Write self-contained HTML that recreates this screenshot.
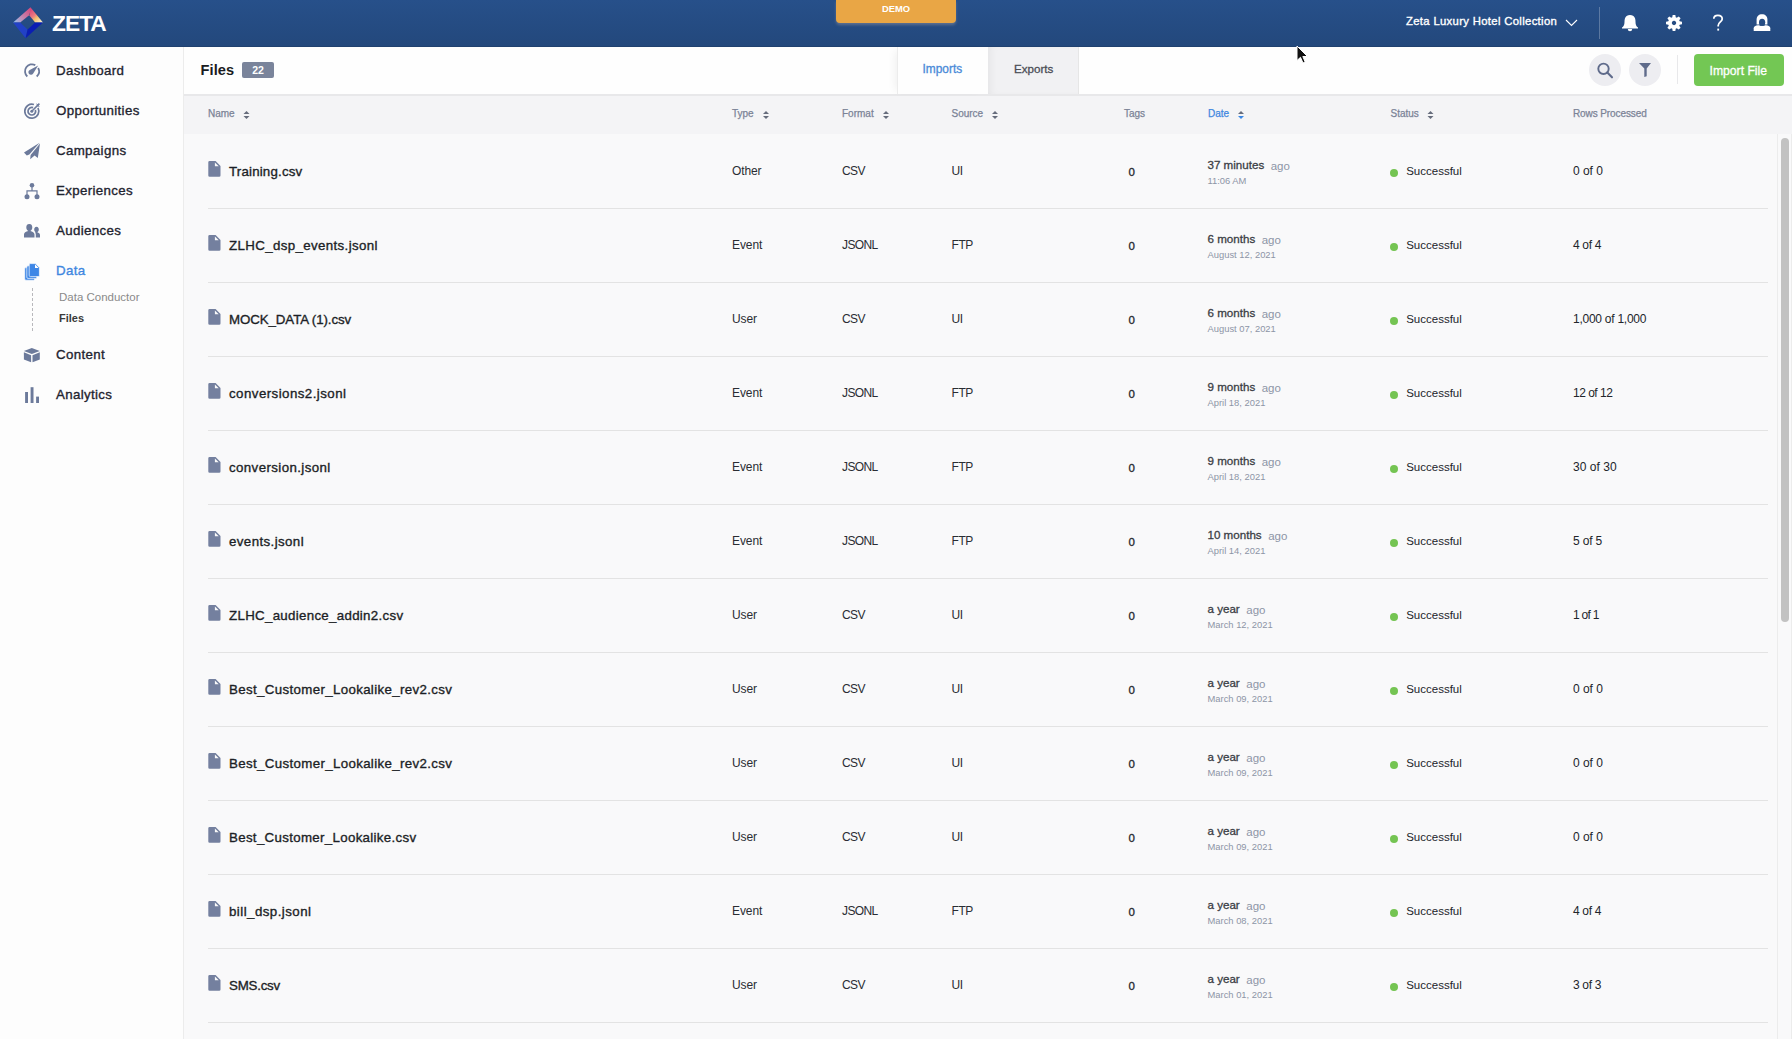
<!DOCTYPE html>
<html><head><meta charset="utf-8"><title>Files</title>
<style>
*{box-sizing:border-box;margin:0;padding:0}
html,body{width:1792px;height:1039px;overflow:hidden}
body{position:relative;background:#f9f9fa;font-family:"Liberation Sans",sans-serif;color:#222}
.a{position:absolute;white-space:nowrap}
.ago{font-weight:400;color:#8d95a6;font-size:11.5px;margin-left:6.5px;position:relative;top:0.7px}
#hdr{position:absolute;left:0;top:0;width:1792px;height:47px;background:linear-gradient(#27508a,#23487c);border-bottom:1px solid #20416f}
#demo{position:absolute;left:836px;top:0;width:120px;height:23px;background:#e9a645;border-radius:0 0 4px 4px;box-shadow:0 2px 3px rgba(150,150,160,0.5)}
#side{position:absolute;left:0;top:47px;width:184px;height:992px;background:#fdfdfd;border-right:1px solid #ececec}
#dash{position:absolute;left:32px;top:288px;width:1px;height:43px;background:repeating-linear-gradient(#b8b8bc 0 3px,transparent 3px 5px)}
#top{position:absolute;left:184px;top:47px;width:1608px;height:47px;background:#fefefe}
#topline{position:absolute;left:184px;top:94px;width:1608px;height:2px;background:#e8e8ea}
#thead{position:absolute;left:184px;top:96px;width:1608px;height:38px;background:#f4f4f6}
#badge{position:absolute;left:242px;top:62px;width:32px;height:16px;border-radius:2px;background:#7a849b;color:#fff;font-size:10.5px;font-weight:700;line-height:16px;text-align:center}
#tabimp{position:absolute;left:897px;top:47px;width:91px;height:47px;background:#fefefe;border-left:1px solid #ececec;box-shadow:-6px 0 8px -4px rgba(0,0,0,0.06)}
#tabexp{position:absolute;left:988px;top:47px;width:91px;height:47px;background:#f1f1f3;border-right:1px solid #e6e6e6;box-shadow:inset 6px 0 8px -4px rgba(0,0,0,0.06)}
.circ{position:absolute;top:54px;width:32px;height:32px;border-radius:50%;background:#ededf1}
#vsep2{position:absolute;left:1677px;top:55px;width:1px;height:29px;background:#e8e8ea}
#imp{position:absolute;left:1694px;top:54px;width:90px;height:32px;border-radius:4px;background:#73c754}
.sep{position:absolute;left:208px;width:1560px;height:1px;background:#e3e3e3}
#sbline{position:absolute;left:1777px;top:134px;width:1px;height:905px;background:#ececec}
#sbthumb{position:absolute;left:1781px;top:138px;width:8px;height:484px;border-radius:4px;background:#c2c2c2}
#sbline2{position:absolute;left:1791px;top:134px;width:1px;height:905px;background:#ececec}
.d1{-webkit-text-stroke:0.3px #3b3e45}
</style></head><body>
<div id="hdr"></div>
<svg class="a" style="left:0;top:0" width="50" height="46">
<defs>
<linearGradient id="lg1" gradientUnits="userSpaceOnUse" x1="13" y1="22.6" x2="31" y2="8"><stop offset="0" stop-color="#8ec4f4"/><stop offset="0.45" stop-color="#c487b0"/><stop offset="1" stop-color="#d8467a"/></linearGradient>
<linearGradient id="lg2" gradientUnits="userSpaceOnUse" x1="31" y1="9" x2="42" y2="22.6"><stop offset="0" stop-color="#d8467a"/><stop offset="0.4" stop-color="#ea7a80"/><stop offset="0.6" stop-color="#f2c070"/><stop offset="1" stop-color="#f8f0d8"/></linearGradient>
</defs>
<path d="M13.1 22.6 L30.5 7.3 L31.4 9.2 L28.8 15.4 L20.2 22.6Z" fill="url(#lg1)"/>
<path d="M30.6 7.5 L43 22.6 L35.2 22.6 L29.4 15.6 Z" fill="url(#lg2)"/>
<path d="M13.1 22.6 L20.2 22.6 L27.6 29.6 L25.6 38.3 Z" fill="#2241c6"/>
<path d="M43 22.6 L25.6 38.3 L27.6 29.6 L35.2 22.6 Z" fill="#0b1db4"/>
</svg>
<div class="a" style="left:52px;top:9.0px;font-size:22.8px;line-height:28px;font-weight:700;color:#ffffff;letter-spacing:-1px;">ZETA</div>
<div id="demo"></div>
<div class="a" style="left:882px;top:2.74px;font-size:9.4px;line-height:12px;font-weight:700;color:#ffffff;">DEMO</div>
<div class="a" style="left:1406px;top:14.48px;font-size:11.3px;line-height:14px;font-weight:400;color:#ffffff;-webkit-text-stroke:0.35px #fff;letter-spacing:0.33px;">Zeta Luxury Hotel Collection</div>
<svg class="a" style="left:0;top:0" width="1792" height="46">
<path d="M1566 20 L1571.5 25.5 L1577 20" fill="none" stroke="#fff" stroke-width="1.1"/>
<rect x="1599" y="7" width="1" height="32" fill="rgba(255,255,255,0.25)"/>
<g fill="#fff">
<path d="M1630 15 C1625 15 1624.5 19 1624.5 22 C1624.5 25 1623.5 26.5 1622 27.5 L1622 28.5 L1638 28.5 L1638 27.5 C1636.5 26.5 1635.5 25 1635.5 22 C1635.5 19 1635 15 1630 15Z"/>
<path d="M1627.8 29 A2.2 2.2 0 0 0 1632.2 29Z"/>
</g>
<path d="M1672.28 17.36 L1672.66 15.01 L1675.34 15.01 L1675.72 17.36 L1676.77 17.79 L1678.70 16.40 L1680.60 18.30 L1679.21 20.23 L1679.64 21.28 L1681.99 21.66 L1681.99 24.34 L1679.64 24.72 L1679.21 25.77 L1680.60 27.70 L1678.70 29.60 L1676.77 28.21 L1675.72 28.64 L1675.34 30.99 L1672.66 30.99 L1672.28 28.64 L1671.23 28.21 L1669.30 29.60 L1667.40 27.70 L1668.79 25.77 L1668.36 24.72 L1666.01 24.34 L1666.01 21.66 L1668.36 21.28 L1668.79 20.23 L1667.40 18.30 L1669.30 16.40 L1671.23 17.79 Z M1674 20.8 A2.2 2.2 0 1 0 1674.01 20.8 Z" fill="#fff" fill-rule="evenodd"/>
<path d="M1713.8 18.8 C1713.8 16.5 1715.5 15.3 1717.9 15.3 C1720.4 15.3 1722.2 16.8 1722.2 19 C1722.2 21.6 1718.2 22.3 1718.2 25.5 V26.5" fill="none" stroke="#fff" stroke-width="1.75"/>
<rect x="1717.3" y="28.6" width="1.8" height="2" fill="#fff"/>
<mask id="um"><rect x="1750" y="10" width="25" height="25" fill="#fff"/><ellipse cx="1762.1" cy="22.2" rx="3.1" ry="3.5" fill="#000"/><rect x="1759.6" y="22.2" width="5" height="3.6" fill="#000"/></mask>
<g fill="#fff" mask="url(#um)">
<path d="M1756.6 24.6 V19.6 C1756.6 16.3 1758.8 14.3 1762 14.3 C1765.2 14.3 1767.4 16.3 1767.4 19.6 V24.6 Z"/>
<path d="M1753.7 31 V28.3 C1753.7 26.4 1755.4 25.5 1758 25.2 H1766 C1768.6 25.5 1770.3 26.4 1770.3 28.3 V31 Z"/>
</g>
</svg>
<div id="side"></div>
<div class="a" style="left:56px;top:61.89px;font-size:13.3px;line-height:17px;font-weight:400;color:#1f2430;-webkit-text-stroke:0.35px #1f2430;letter-spacing:0.35px;">Dashboard</div>
<div class="a" style="left:56px;top:101.89px;font-size:13.3px;line-height:17px;font-weight:400;color:#1f2430;-webkit-text-stroke:0.35px #1f2430;letter-spacing:0.35px;">Opportunities</div>
<div class="a" style="left:56px;top:141.89px;font-size:13.3px;line-height:17px;font-weight:400;color:#1f2430;-webkit-text-stroke:0.35px #1f2430;letter-spacing:0.35px;">Campaigns</div>
<div class="a" style="left:56px;top:181.89px;font-size:13.3px;line-height:17px;font-weight:400;color:#1f2430;-webkit-text-stroke:0.35px #1f2430;letter-spacing:0.35px;">Experiences</div>
<div class="a" style="left:56px;top:221.89px;font-size:13.3px;line-height:17px;font-weight:400;color:#1f2430;-webkit-text-stroke:0.35px #1f2430;letter-spacing:0.35px;">Audiences</div>
<div class="a" style="left:56px;top:261.89px;font-size:13.3px;line-height:17px;font-weight:400;color:#3f87e0;-webkit-text-stroke:0.35px #3f87e0;letter-spacing:0.35px;">Data</div>
<div class="a" style="left:59px;top:290.22px;font-size:11.5px;line-height:14px;font-weight:400;color:#8a8a8a;">Data Conductor</div>
<div class="a" style="left:59px;top:310.99px;font-size:11px;line-height:14px;font-weight:700;color:#3a3a3a;">Files</div>
<div class="a" style="left:56px;top:345.89px;font-size:13.3px;line-height:17px;font-weight:400;color:#1f2430;-webkit-text-stroke:0.35px #1f2430;letter-spacing:0.35px;">Content</div>
<div class="a" style="left:56px;top:385.89px;font-size:13.3px;line-height:17px;font-weight:400;color:#1f2430;-webkit-text-stroke:0.35px #1f2430;letter-spacing:0.35px;">Analytics</div>
<div id="dash"></div>
<svg class="a" style="left:0;top:0" width="60" height="420">
<g fill="#6c7a9b" stroke="none">
<!-- dashboard gauge -->
<path d="M27.32 76.50 A7.0 7.0 0 0 1 35.29 65.12 M38.18 68.01 A7.0 7.0 0 0 1 36.68 76.50" fill="none" stroke="#6c7a9b" stroke-width="1.8"/>
<path d="M38.2 65.6 L33.00 73.66 A2.5 2.5 0 1 1 29.73 70.09 Z"/>
<!-- opportunities target -->
<path d="M37.98 107.91 A7.0 7.0 0 1 1 33.96 104.54 M35.37 109.90 A3.8 3.8 0 1 1 33.10 107.63" fill="none" stroke="#6c7a9b" stroke-width="1.7"/>
<circle cx="31.8" cy="111.2" r="1.5"/>
<path d="M31.3 111.7 L37.6 105.4" stroke="#6c7a9b" stroke-width="1.5"/>
<path d="M36.2 103.2 L37.6 104.3 L38.8 103 L40 104.2 L38.7 105.4 L39.8 106.8 L37.4 106.6 Z"/>
<!-- campaigns plane -->
<path d="M24 152.6 L39.6 142.8 L29.3 154.6 L26.8 155.6 Z"/>
<path d="M40 143.6 L37.8 158 L34.6 155.6 L30.2 159.3 L30.6 154.9 Z"/>
<!-- experiences -->
<circle cx="32" cy="185.3" r="2.3"/>
<circle cx="27" cy="196.8" r="2.5"/>
<circle cx="37" cy="196.8" r="2.5"/>
<path d="M31.4 187 H32.6 V190.3 H37.6 V195 H36.4 V191.5 H27.6 V195 H26.4 V190.3 H31.4Z"/>
<!-- audiences -->
<path d="M29.3 224 C27 224 26.3 225.8 26.3 227.5 C26.3 229.5 27.4 230.6 28.3 231 C25.8 231.5 24 232.5 24 234.5 V237.5 H34.5 V234.5 C34.5 232.5 32.5 231.5 30.3 231 C31.2 230.6 32.3 229.5 32.3 227.5 C32.3 225.8 31.6 224 29.3 224Z"/>
<path d="M36.5 226.8 C34.8 226.8 34.2 228.2 34.2 229.6 C34.2 231 35 232 35.6 232.3 C35.3 232.4 35.1 232.5 35 232.6 C35.6 233.2 35.8 233.9 35.8 234.7 V237.5 H40 V235 C40 233.6 38.8 232.8 37.3 232.3 C38 232 38.8 231 38.8 229.6 C38.8 228.2 38.2 226.8 36.5 226.8Z"/>
<!-- content cube -->
<path d="M31.8 348 L39.8 351 L31.8 354 L23.9 351Z"/>
<path d="M23.9 352.3 L31.1 355.2 V362.3 L23.9 359.4Z"/>
<path d="M32.5 355.2 L39.8 352.3 V359.4 L32.5 362.3Z"/>
<!-- analytics -->
<rect x="25.1" y="392" width="2.9" height="11"/>
<rect x="30.6" y="387.2" width="2.9" height="15.8"/>
<rect x="36.1" y="396.6" width="2.9" height="6.4"/>
</g>
<!-- data icon (blue) -->
<g fill="#3d86e6" stroke="#fdfdfd" stroke-width="0.7">
<rect x="24.7" y="267.6" width="10" height="12.6" rx="1.2"/>
<rect x="26.8" y="265.8" width="10" height="12.6" rx="1.2"/>
<path d="M30.4 263.6 H35.6 L39.4 267.4 V275.4 Q39.4 276.6 38.2 276.6 H30.4 Q29.2 276.6 29.2 275.4 V264.8 Q29.2 263.6 30.4 263.6Z"/>
</g>
<path d="M35 264.3 V268 H38.7Z" fill="#fff"/>
</svg>
<div id="top"></div>
<div id="topline"></div>
<div class="a" style="left:200.5px;top:60.94px;font-size:14.6px;line-height:18px;font-weight:700;color:#1a1c22;letter-spacing:0.1px;">Files</div>
<div id="badge">22</div>
<div id="tabimp"></div><div id="tabexp"></div>
<div class="a" style="left:922.5px;top:61.58px;font-size:11.9px;line-height:15px;font-weight:400;color:#4a8ad8;-webkit-text-stroke:0.3px #4a8ad8;">Imports</div>
<div class="a" style="left:1014px;top:62.18px;font-size:11.6px;line-height:14px;font-weight:400;color:#4b4e56;-webkit-text-stroke:0.3px #4b4e56;">Exports</div>
<div class="circ" style="left:1589px"></div><div class="circ" style="left:1629px"></div>
<div id="vsep2"></div>
<div id="imp"></div>
<div class="a" style="left:1709.5px;top:63.57px;font-size:12.2px;line-height:15px;font-weight:400;color:#ffffff;-webkit-text-stroke:0.3px #fff;">Import File</div>
<svg class="a" style="left:0;top:0" width="1792" height="96">
<circle cx="1603.5" cy="68.8" r="5.2" fill="none" stroke="#5f6b8b" stroke-width="1.9"/>
<path d="M1607.3 72.6 L1612 77.3" stroke="#5f6b8b" stroke-width="2.1" stroke-linecap="round"/>
<path d="M1639 63 H1651 L1646.7 68.5 V76.2 L1644.3 77 V68.5Z" fill="#5f6b8b"/>
</svg>
<div id="thead"></div>
<div class="a" style="left:208px;top:107.73px;font-size:10px;line-height:12px;font-weight:400;color:#7b8396;-webkit-text-stroke:0.25px #7b8396;">Name</div>
<div class="a" style="left:732px;top:107.73px;font-size:10px;line-height:12px;font-weight:400;color:#7b8396;-webkit-text-stroke:0.25px #7b8396;">Type</div>
<div class="a" style="left:842px;top:107.73px;font-size:10px;line-height:12px;font-weight:400;color:#7b8396;-webkit-text-stroke:0.25px #7b8396;">Format</div>
<div class="a" style="left:951.5px;top:107.73px;font-size:10px;line-height:12px;font-weight:400;color:#7b8396;-webkit-text-stroke:0.25px #7b8396;">Source</div>
<div class="a" style="left:1124px;top:107.73px;font-size:10px;line-height:12px;font-weight:400;color:#7b8396;-webkit-text-stroke:0.25px #7b8396;">Tags</div>
<div class="a" style="left:1208px;top:107.73px;font-size:10px;line-height:12px;font-weight:400;color:#3f87e0;-webkit-text-stroke:0.25px #3f87e0;">Date</div>
<div class="a" style="left:1390.5px;top:107.73px;font-size:10px;line-height:12px;font-weight:400;color:#7b8396;-webkit-text-stroke:0.25px #7b8396;">Status</div>
<div class="a" style="left:1573px;top:107.73px;font-size:10px;line-height:12px;font-weight:400;color:#7b8396;-webkit-text-stroke:0.25px #7b8396;letter-spacing:-0.1px;">Rows Processed</div>
<svg class="a" style="left:0;top:0" width="1792" height="140"><path d="M243.5 114 L246.5 111 L249.5 114Z" fill="#666c7c"/><path d="M243.5 116 L246.5 119 L249.5 116Z" fill="#666c7c"/><path d="M763 114 L766 111 L769 114Z" fill="#666c7c"/><path d="M763 116 L766 119 L769 116Z" fill="#666c7c"/><path d="M883 114 L886 111 L889 114Z" fill="#666c7c"/><path d="M883 116 L886 119 L889 116Z" fill="#666c7c"/><path d="M992 114 L995 111 L998 114Z" fill="#666c7c"/><path d="M992 116 L995 119 L998 116Z" fill="#666c7c"/><path d="M1238 114 L1241 111 L1244 114Z" fill="#666c7c"/><path d="M1238 116 L1241 119 L1244 116Z" fill="#3a87e5"/><path d="M1427.5 114 L1430.5 111 L1433.5 114Z" fill="#666c7c"/><path d="M1427.5 116 L1430.5 119 L1433.5 116Z" fill="#666c7c"/></svg>
<div class="a" style="left:229px;top:162.89px;font-size:13.3px;line-height:17px;font-weight:400;color:#1c1f26;-webkit-text-stroke:0.35px #1c1f26;letter-spacing:0.182px;">Training.csv</div>
<div class="a" style="left:732px;top:164.34px;font-size:12px;line-height:15px;font-weight:400;color:#2a2d33;letter-spacing:-0.1px;">Other</div>
<div class="a" style="left:842px;top:164.34px;font-size:12px;line-height:15px;font-weight:400;color:#2a2d33;letter-spacing:-0.6px;">CSV</div>
<div class="a" style="left:951.5px;top:164.34px;font-size:12px;line-height:15px;font-weight:400;color:#2a2d33;letter-spacing:-0.4px;">UI</div>
<div class="a" style="left:1128.5px;top:165.02px;font-size:11.5px;line-height:14px;font-weight:400;color:#23262c;-webkit-text-stroke:0.3px #23262c;">0</div>
<div class="a" style="left:1207.5px;top:157.98px;font-size:11.6px;line-height:14px;font-weight:400;color:#3b3e45;"><span class="d1">37 minutes</span><span class="ago">ago</span></div>
<div class="a" style="left:1207.5px;top:174.94px;font-size:9.4px;line-height:12px;font-weight:400;color:#8d95a6;">11:06 AM</div>
<div class="a" style="left:1406.2px;top:164.32px;font-size:11.5px;line-height:14px;font-weight:400;color:#22252b;">Successful</div>
<div class="a" style="left:1573px;top:164.14px;font-size:12px;line-height:15px;font-weight:400;color:#22252b;letter-spacing:-0.02px;">0 of 0</div>
<div class="sep" style="top:208px"></div>
<div class="a" style="left:229px;top:236.89px;font-size:13.3px;line-height:17px;font-weight:400;color:#1c1f26;-webkit-text-stroke:0.35px #1c1f26;letter-spacing:0.365px;">ZLHC_dsp_events.jsonl</div>
<div class="a" style="left:732px;top:238.34px;font-size:12px;line-height:15px;font-weight:400;color:#2a2d33;letter-spacing:-0.1px;">Event</div>
<div class="a" style="left:842px;top:238.34px;font-size:12px;line-height:15px;font-weight:400;color:#2a2d33;letter-spacing:-0.6px;">JSONL</div>
<div class="a" style="left:951.5px;top:238.34px;font-size:12px;line-height:15px;font-weight:400;color:#2a2d33;letter-spacing:-0.4px;">FTP</div>
<div class="a" style="left:1128.5px;top:239.02px;font-size:11.5px;line-height:14px;font-weight:400;color:#23262c;-webkit-text-stroke:0.3px #23262c;">0</div>
<div class="a" style="left:1207.5px;top:231.98px;font-size:11.6px;line-height:14px;font-weight:400;color:#3b3e45;"><span class="d1">6 months</span><span class="ago">ago</span></div>
<div class="a" style="left:1207.5px;top:248.94px;font-size:9.4px;line-height:12px;font-weight:400;color:#8d95a6;">August 12, 2021</div>
<div class="a" style="left:1406.2px;top:238.32px;font-size:11.5px;line-height:14px;font-weight:400;color:#22252b;">Successful</div>
<div class="a" style="left:1573px;top:238.14px;font-size:12px;line-height:15px;font-weight:400;color:#22252b;letter-spacing:-0.32px;">4 of 4</div>
<div class="sep" style="top:282px"></div>
<div class="a" style="left:229px;top:310.89px;font-size:13.3px;line-height:17px;font-weight:400;color:#1c1f26;-webkit-text-stroke:0.35px #1c1f26;letter-spacing:-0.087px;">MOCK_DATA (1).csv</div>
<div class="a" style="left:732px;top:312.34px;font-size:12px;line-height:15px;font-weight:400;color:#2a2d33;letter-spacing:-0.1px;">User</div>
<div class="a" style="left:842px;top:312.34px;font-size:12px;line-height:15px;font-weight:400;color:#2a2d33;letter-spacing:-0.6px;">CSV</div>
<div class="a" style="left:951.5px;top:312.34px;font-size:12px;line-height:15px;font-weight:400;color:#2a2d33;letter-spacing:-0.4px;">UI</div>
<div class="a" style="left:1128.5px;top:313.02px;font-size:11.5px;line-height:14px;font-weight:400;color:#23262c;-webkit-text-stroke:0.3px #23262c;">0</div>
<div class="a" style="left:1207.5px;top:305.98px;font-size:11.6px;line-height:14px;font-weight:400;color:#3b3e45;"><span class="d1">6 months</span><span class="ago">ago</span></div>
<div class="a" style="left:1207.5px;top:322.94px;font-size:9.4px;line-height:12px;font-weight:400;color:#8d95a6;">August 07, 2021</div>
<div class="a" style="left:1406.2px;top:312.32px;font-size:11.5px;line-height:14px;font-weight:400;color:#22252b;">Successful</div>
<div class="a" style="left:1573px;top:312.14px;font-size:12px;line-height:15px;font-weight:400;color:#22252b;letter-spacing:-0.254px;">1,000 of 1,000</div>
<div class="sep" style="top:356px"></div>
<div class="a" style="left:229px;top:384.89px;font-size:13.3px;line-height:17px;font-weight:400;color:#1c1f26;-webkit-text-stroke:0.35px #1c1f26;letter-spacing:0.447px;">conversions2.jsonl</div>
<div class="a" style="left:732px;top:386.34px;font-size:12px;line-height:15px;font-weight:400;color:#2a2d33;letter-spacing:-0.1px;">Event</div>
<div class="a" style="left:842px;top:386.34px;font-size:12px;line-height:15px;font-weight:400;color:#2a2d33;letter-spacing:-0.6px;">JSONL</div>
<div class="a" style="left:951.5px;top:386.34px;font-size:12px;line-height:15px;font-weight:400;color:#2a2d33;letter-spacing:-0.4px;">FTP</div>
<div class="a" style="left:1128.5px;top:387.02px;font-size:11.5px;line-height:14px;font-weight:400;color:#23262c;-webkit-text-stroke:0.3px #23262c;">0</div>
<div class="a" style="left:1207.5px;top:379.98px;font-size:11.6px;line-height:14px;font-weight:400;color:#3b3e45;"><span class="d1">9 months</span><span class="ago">ago</span></div>
<div class="a" style="left:1207.5px;top:396.94px;font-size:9.4px;line-height:12px;font-weight:400;color:#8d95a6;">April 18, 2021</div>
<div class="a" style="left:1406.2px;top:386.32px;font-size:11.5px;line-height:14px;font-weight:400;color:#22252b;">Successful</div>
<div class="a" style="left:1573px;top:386.14px;font-size:12px;line-height:15px;font-weight:400;color:#22252b;letter-spacing:-0.5px;">12 of 12</div>
<div class="sep" style="top:430px"></div>
<div class="a" style="left:229px;top:458.89px;font-size:13.3px;line-height:17px;font-weight:400;color:#1c1f26;-webkit-text-stroke:0.35px #1c1f26;letter-spacing:0.393px;">conversion.jsonl</div>
<div class="a" style="left:732px;top:460.34px;font-size:12px;line-height:15px;font-weight:400;color:#2a2d33;letter-spacing:-0.1px;">Event</div>
<div class="a" style="left:842px;top:460.34px;font-size:12px;line-height:15px;font-weight:400;color:#2a2d33;letter-spacing:-0.6px;">JSONL</div>
<div class="a" style="left:951.5px;top:460.34px;font-size:12px;line-height:15px;font-weight:400;color:#2a2d33;letter-spacing:-0.4px;">FTP</div>
<div class="a" style="left:1128.5px;top:461.02px;font-size:11.5px;line-height:14px;font-weight:400;color:#23262c;-webkit-text-stroke:0.3px #23262c;">0</div>
<div class="a" style="left:1207.5px;top:453.98px;font-size:11.6px;line-height:14px;font-weight:400;color:#3b3e45;"><span class="d1">9 months</span><span class="ago">ago</span></div>
<div class="a" style="left:1207.5px;top:470.94px;font-size:9.4px;line-height:12px;font-weight:400;color:#8d95a6;">April 18, 2021</div>
<div class="a" style="left:1406.2px;top:460.32px;font-size:11.5px;line-height:14px;font-weight:400;color:#22252b;">Successful</div>
<div class="a" style="left:1573px;top:460.14px;font-size:12px;line-height:15px;font-weight:400;color:#22252b;letter-spacing:0.057px;">30 of 30</div>
<div class="sep" style="top:504px"></div>
<div class="a" style="left:229px;top:532.89px;font-size:13.3px;line-height:17px;font-weight:400;color:#1c1f26;-webkit-text-stroke:0.35px #1c1f26;letter-spacing:0.4px;">events.jsonl</div>
<div class="a" style="left:732px;top:534.34px;font-size:12px;line-height:15px;font-weight:400;color:#2a2d33;letter-spacing:-0.1px;">Event</div>
<div class="a" style="left:842px;top:534.34px;font-size:12px;line-height:15px;font-weight:400;color:#2a2d33;letter-spacing:-0.6px;">JSONL</div>
<div class="a" style="left:951.5px;top:534.34px;font-size:12px;line-height:15px;font-weight:400;color:#2a2d33;letter-spacing:-0.4px;">FTP</div>
<div class="a" style="left:1128.5px;top:535.02px;font-size:11.5px;line-height:14px;font-weight:400;color:#23262c;-webkit-text-stroke:0.3px #23262c;">0</div>
<div class="a" style="left:1207.5px;top:527.98px;font-size:11.6px;line-height:14px;font-weight:400;color:#3b3e45;"><span class="d1">10 months</span><span class="ago">ago</span></div>
<div class="a" style="left:1207.5px;top:544.94px;font-size:9.4px;line-height:12px;font-weight:400;color:#8d95a6;">April 14, 2021</div>
<div class="a" style="left:1406.2px;top:534.32px;font-size:11.5px;line-height:14px;font-weight:400;color:#22252b;">Successful</div>
<div class="a" style="left:1573px;top:534.14px;font-size:12px;line-height:15px;font-weight:400;color:#22252b;letter-spacing:-0.18px;">5 of 5</div>
<div class="sep" style="top:578px"></div>
<div class="a" style="left:229px;top:606.89px;font-size:13.3px;line-height:17px;font-weight:400;color:#1c1f26;-webkit-text-stroke:0.35px #1c1f26;letter-spacing:0.304px;">ZLHC_audience_addin2.csv</div>
<div class="a" style="left:732px;top:608.34px;font-size:12px;line-height:15px;font-weight:400;color:#2a2d33;letter-spacing:-0.1px;">User</div>
<div class="a" style="left:842px;top:608.34px;font-size:12px;line-height:15px;font-weight:400;color:#2a2d33;letter-spacing:-0.6px;">CSV</div>
<div class="a" style="left:951.5px;top:608.34px;font-size:12px;line-height:15px;font-weight:400;color:#2a2d33;letter-spacing:-0.4px;">UI</div>
<div class="a" style="left:1128.5px;top:609.02px;font-size:11.5px;line-height:14px;font-weight:400;color:#23262c;-webkit-text-stroke:0.3px #23262c;">0</div>
<div class="a" style="left:1207.5px;top:601.98px;font-size:11.6px;line-height:14px;font-weight:400;color:#3b3e45;"><span class="d1">a year</span><span class="ago">ago</span></div>
<div class="a" style="left:1207.5px;top:618.94px;font-size:9.4px;line-height:12px;font-weight:400;color:#8d95a6;">March 12, 2021</div>
<div class="a" style="left:1406.2px;top:608.32px;font-size:11.5px;line-height:14px;font-weight:400;color:#22252b;">Successful</div>
<div class="a" style="left:1573px;top:608.14px;font-size:12px;line-height:15px;font-weight:400;color:#22252b;letter-spacing:-0.7px;">1 of 1</div>
<div class="sep" style="top:652px"></div>
<div class="a" style="left:229px;top:680.89px;font-size:13.3px;line-height:17px;font-weight:400;color:#1c1f26;-webkit-text-stroke:0.35px #1c1f26;letter-spacing:0.348px;">Best_Customer_Lookalike_rev2.csv</div>
<div class="a" style="left:732px;top:682.34px;font-size:12px;line-height:15px;font-weight:400;color:#2a2d33;letter-spacing:-0.1px;">User</div>
<div class="a" style="left:842px;top:682.34px;font-size:12px;line-height:15px;font-weight:400;color:#2a2d33;letter-spacing:-0.6px;">CSV</div>
<div class="a" style="left:951.5px;top:682.34px;font-size:12px;line-height:15px;font-weight:400;color:#2a2d33;letter-spacing:-0.4px;">UI</div>
<div class="a" style="left:1128.5px;top:683.02px;font-size:11.5px;line-height:14px;font-weight:400;color:#23262c;-webkit-text-stroke:0.3px #23262c;">0</div>
<div class="a" style="left:1207.5px;top:675.98px;font-size:11.6px;line-height:14px;font-weight:400;color:#3b3e45;"><span class="d1">a year</span><span class="ago">ago</span></div>
<div class="a" style="left:1207.5px;top:692.94px;font-size:9.4px;line-height:12px;font-weight:400;color:#8d95a6;">March 09, 2021</div>
<div class="a" style="left:1406.2px;top:682.32px;font-size:11.5px;line-height:14px;font-weight:400;color:#22252b;">Successful</div>
<div class="a" style="left:1573px;top:682.14px;font-size:12px;line-height:15px;font-weight:400;color:#22252b;letter-spacing:-0.02px;">0 of 0</div>
<div class="sep" style="top:726px"></div>
<div class="a" style="left:229px;top:754.89px;font-size:13.3px;line-height:17px;font-weight:400;color:#1c1f26;-webkit-text-stroke:0.35px #1c1f26;letter-spacing:0.348px;">Best_Customer_Lookalike_rev2.csv</div>
<div class="a" style="left:732px;top:756.34px;font-size:12px;line-height:15px;font-weight:400;color:#2a2d33;letter-spacing:-0.1px;">User</div>
<div class="a" style="left:842px;top:756.34px;font-size:12px;line-height:15px;font-weight:400;color:#2a2d33;letter-spacing:-0.6px;">CSV</div>
<div class="a" style="left:951.5px;top:756.34px;font-size:12px;line-height:15px;font-weight:400;color:#2a2d33;letter-spacing:-0.4px;">UI</div>
<div class="a" style="left:1128.5px;top:757.02px;font-size:11.5px;line-height:14px;font-weight:400;color:#23262c;-webkit-text-stroke:0.3px #23262c;">0</div>
<div class="a" style="left:1207.5px;top:749.98px;font-size:11.6px;line-height:14px;font-weight:400;color:#3b3e45;"><span class="d1">a year</span><span class="ago">ago</span></div>
<div class="a" style="left:1207.5px;top:766.94px;font-size:9.4px;line-height:12px;font-weight:400;color:#8d95a6;">March 09, 2021</div>
<div class="a" style="left:1406.2px;top:756.32px;font-size:11.5px;line-height:14px;font-weight:400;color:#22252b;">Successful</div>
<div class="a" style="left:1573px;top:756.14px;font-size:12px;line-height:15px;font-weight:400;color:#22252b;letter-spacing:-0.02px;">0 of 0</div>
<div class="sep" style="top:800px"></div>
<div class="a" style="left:229px;top:828.89px;font-size:13.3px;line-height:17px;font-weight:400;color:#1c1f26;-webkit-text-stroke:0.35px #1c1f26;letter-spacing:0.319px;">Best_Customer_Lookalike.csv</div>
<div class="a" style="left:732px;top:830.34px;font-size:12px;line-height:15px;font-weight:400;color:#2a2d33;letter-spacing:-0.1px;">User</div>
<div class="a" style="left:842px;top:830.34px;font-size:12px;line-height:15px;font-weight:400;color:#2a2d33;letter-spacing:-0.6px;">CSV</div>
<div class="a" style="left:951.5px;top:830.34px;font-size:12px;line-height:15px;font-weight:400;color:#2a2d33;letter-spacing:-0.4px;">UI</div>
<div class="a" style="left:1128.5px;top:831.02px;font-size:11.5px;line-height:14px;font-weight:400;color:#23262c;-webkit-text-stroke:0.3px #23262c;">0</div>
<div class="a" style="left:1207.5px;top:823.98px;font-size:11.6px;line-height:14px;font-weight:400;color:#3b3e45;"><span class="d1">a year</span><span class="ago">ago</span></div>
<div class="a" style="left:1207.5px;top:840.94px;font-size:9.4px;line-height:12px;font-weight:400;color:#8d95a6;">March 09, 2021</div>
<div class="a" style="left:1406.2px;top:830.32px;font-size:11.5px;line-height:14px;font-weight:400;color:#22252b;">Successful</div>
<div class="a" style="left:1573px;top:830.14px;font-size:12px;line-height:15px;font-weight:400;color:#22252b;letter-spacing:-0.02px;">0 of 0</div>
<div class="sep" style="top:874px"></div>
<div class="a" style="left:229px;top:902.89px;font-size:13.3px;line-height:17px;font-weight:400;color:#1c1f26;-webkit-text-stroke:0.35px #1c1f26;letter-spacing:0.446px;">bill_dsp.jsonl</div>
<div class="a" style="left:732px;top:904.34px;font-size:12px;line-height:15px;font-weight:400;color:#2a2d33;letter-spacing:-0.1px;">Event</div>
<div class="a" style="left:842px;top:904.34px;font-size:12px;line-height:15px;font-weight:400;color:#2a2d33;letter-spacing:-0.6px;">JSONL</div>
<div class="a" style="left:951.5px;top:904.34px;font-size:12px;line-height:15px;font-weight:400;color:#2a2d33;letter-spacing:-0.4px;">FTP</div>
<div class="a" style="left:1128.5px;top:905.02px;font-size:11.5px;line-height:14px;font-weight:400;color:#23262c;-webkit-text-stroke:0.3px #23262c;">0</div>
<div class="a" style="left:1207.5px;top:897.98px;font-size:11.6px;line-height:14px;font-weight:400;color:#3b3e45;"><span class="d1">a year</span><span class="ago">ago</span></div>
<div class="a" style="left:1207.5px;top:914.94px;font-size:9.4px;line-height:12px;font-weight:400;color:#8d95a6;">March 08, 2021</div>
<div class="a" style="left:1406.2px;top:904.32px;font-size:11.5px;line-height:14px;font-weight:400;color:#22252b;">Successful</div>
<div class="a" style="left:1573px;top:904.14px;font-size:12px;line-height:15px;font-weight:400;color:#22252b;letter-spacing:-0.32px;">4 of 4</div>
<div class="sep" style="top:948px"></div>
<div class="a" style="left:229px;top:976.89px;font-size:13.3px;line-height:17px;font-weight:400;color:#1c1f26;-webkit-text-stroke:0.35px #1c1f26;letter-spacing:-0.217px;">SMS.csv</div>
<div class="a" style="left:732px;top:978.34px;font-size:12px;line-height:15px;font-weight:400;color:#2a2d33;letter-spacing:-0.1px;">User</div>
<div class="a" style="left:842px;top:978.34px;font-size:12px;line-height:15px;font-weight:400;color:#2a2d33;letter-spacing:-0.6px;">CSV</div>
<div class="a" style="left:951.5px;top:978.34px;font-size:12px;line-height:15px;font-weight:400;color:#2a2d33;letter-spacing:-0.4px;">UI</div>
<div class="a" style="left:1128.5px;top:979.02px;font-size:11.5px;line-height:14px;font-weight:400;color:#23262c;-webkit-text-stroke:0.3px #23262c;">0</div>
<div class="a" style="left:1207.5px;top:971.98px;font-size:11.6px;line-height:14px;font-weight:400;color:#3b3e45;"><span class="d1">a year</span><span class="ago">ago</span></div>
<div class="a" style="left:1207.5px;top:988.94px;font-size:9.4px;line-height:12px;font-weight:400;color:#8d95a6;">March 01, 2021</div>
<div class="a" style="left:1406.2px;top:978.32px;font-size:11.5px;line-height:14px;font-weight:400;color:#22252b;">Successful</div>
<div class="a" style="left:1573px;top:978.14px;font-size:12px;line-height:15px;font-weight:400;color:#22252b;letter-spacing:-0.32px;">3 of 3</div>
<div class="sep" style="top:1022px"></div>
<div class="a" style="left:229px;top:1050.89px;font-size:13.3px;line-height:17px;font-weight:400;color:#1c1f26;-webkit-text-stroke:0.35px #1c1f26;letter-spacing:0.3px;">extra.csv</div>
<div class="a" style="left:732px;top:1052.34px;font-size:12px;line-height:15px;font-weight:400;color:#2a2d33;letter-spacing:-0.1px;">User</div>
<div class="a" style="left:842px;top:1052.34px;font-size:12px;line-height:15px;font-weight:400;color:#2a2d33;letter-spacing:-0.6px;">CSV</div>
<div class="a" style="left:951.5px;top:1052.34px;font-size:12px;line-height:15px;font-weight:400;color:#2a2d33;letter-spacing:-0.4px;">UI</div>
<div class="a" style="left:1128.5px;top:1053.02px;font-size:11.5px;line-height:14px;font-weight:400;color:#23262c;-webkit-text-stroke:0.3px #23262c;">0</div>
<div class="a" style="left:1207.5px;top:1045.98px;font-size:11.6px;line-height:14px;font-weight:400;color:#3b3e45;"><span class="d1">a year</span><span class="ago">ago</span></div>
<div class="a" style="left:1207.5px;top:1062.94px;font-size:9.4px;line-height:12px;font-weight:400;color:#8d95a6;">March 01, 2021</div>
<div class="a" style="left:1406.2px;top:1052.32px;font-size:11.5px;line-height:14px;font-weight:400;color:#22252b;">Successful</div>
<div class="a" style="left:1573px;top:1052.14px;font-size:12px;line-height:15px;font-weight:400;color:#22252b;letter-spacing:0px;">3 of 3</div>
<svg class="a" style="left:0;top:0" width="1792" height="1039"><defs><path id="fi" d="M0 1.3 Q0 0 1.3 0 H7.3 L12.2 4.9 V14.5 Q12.2 15.8 10.9 15.8 H1.3 Q0 15.8 0 14.5 Z M6.6 1.5 V5.3 H10.4 Z" fill="#74809f" fill-rule="evenodd"/></defs><g><use href="#fi" x="208.3" y="161"/><use href="#fi" x="208.3" y="235"/><use href="#fi" x="208.3" y="309"/><use href="#fi" x="208.3" y="383"/><use href="#fi" x="208.3" y="457"/><use href="#fi" x="208.3" y="531"/><use href="#fi" x="208.3" y="605"/><use href="#fi" x="208.3" y="679"/><use href="#fi" x="208.3" y="753"/><use href="#fi" x="208.3" y="827"/><use href="#fi" x="208.3" y="901"/><use href="#fi" x="208.3" y="975"/><use href="#fi" x="208.3" y="1049"/></g><g fill="#74c452"><circle cx="1394" cy="173" r="4"/><circle cx="1394" cy="247" r="4"/><circle cx="1394" cy="321" r="4"/><circle cx="1394" cy="395" r="4"/><circle cx="1394" cy="469" r="4"/><circle cx="1394" cy="543" r="4"/><circle cx="1394" cy="617" r="4"/><circle cx="1394" cy="691" r="4"/><circle cx="1394" cy="765" r="4"/><circle cx="1394" cy="839" r="4"/><circle cx="1394" cy="913" r="4"/><circle cx="1394" cy="987" r="4"/><circle cx="1394" cy="1061" r="4"/></g></svg>
<div id="sbline"></div><div id="sbthumb"></div><div id="sbline2"></div>
<svg class="a" style="left:1296px;top:45px" width="14" height="20" viewBox="0 0 14 20">
<path d="M1 1 L1 15.5 L4.5 12.3 L7 18 L9.2 17 L6.8 11.5 L11.5 11.5Z" fill="#111" stroke="#fff" stroke-width="1"/>
</svg>
</body></html>
